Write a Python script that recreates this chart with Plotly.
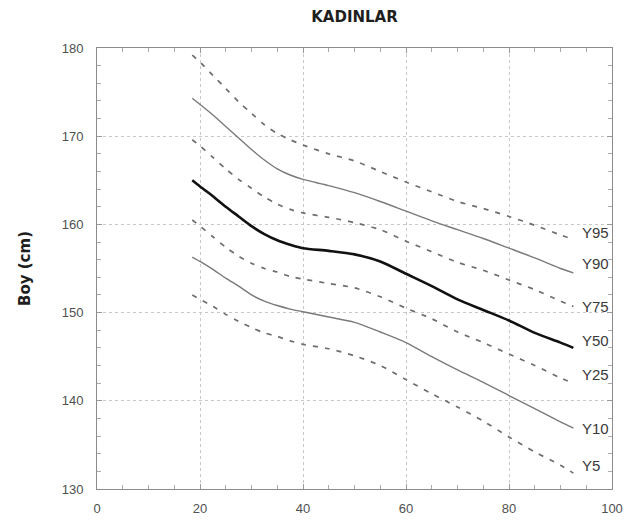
import plotly.graph_objects as go

ages = [18.5, 20, 22.5, 25, 27.5, 30, 32.5, 35, 37.5, 40, 45, 50, 55, 60, 65, 70, 75, 80, 85, 90, 92.5]

y95 = [179.2, 178.4, 176.9, 175.4, 173.9, 172.6, 171.3, 170.3, 169.6, 169.0, 168.0, 167.2, 166.0, 164.8, 163.7, 162.6, 161.8, 160.9, 159.9, 158.8, 158.3]
y90 = [174.3, 173.6, 172.4, 171.1, 169.8, 168.5, 167.3, 166.3, 165.6, 165.1, 164.4, 163.6, 162.6, 161.5, 160.4, 159.4, 158.4, 157.3, 156.2, 155.0, 154.5]
y75 = [169.6, 168.9, 167.6, 166.3, 165.1, 164.1, 163.1, 162.3, 161.7, 161.3, 160.8, 160.2, 159.4, 158.1, 156.9, 155.7, 154.8, 153.7, 152.6, 151.3, 150.7]
y50 = [165.0, 164.3, 163.2, 162.0, 160.9, 159.8, 158.9, 158.2, 157.7, 157.3, 157.0, 156.6, 155.8, 154.4, 153.0, 151.5, 150.3, 149.1, 147.7, 146.6, 146.0]
y25 = [160.5, 159.8, 158.6, 157.4, 156.4, 155.6, 155.0, 154.6, 154.1, 153.8, 153.3, 152.8, 151.8, 150.5, 149.3, 147.8, 146.6, 145.3, 144.0, 142.6, 142.0]
y10 = [156.3, 155.8, 154.9, 153.9, 153.0, 152.0, 151.3, 150.8, 150.4, 150.1, 149.5, 148.9, 147.8, 146.6, 145.0, 143.5, 142.1, 140.6, 139.1, 137.6, 136.9]
y5 = [152.0, 151.5, 150.7, 149.8, 149.0, 148.3, 147.7, 147.3, 146.8, 146.4, 145.9, 145.1, 144.0, 142.4, 140.8, 139.3, 137.7, 135.9, 134.2, 132.7, 131.8]

series_names = ["Y95", "Y90", "Y75", "Y50", "Y25", "Y10", "Y5"]
series_values = [y95, y90, y75, y50, y25, y10, y5]

x_ticks = [0, 20, 40, 60, 80, 100]
y_ticks = [130, 140, 150, 160, 170, 180]

styles = {
    "Y95": dict(color="#6e6e6e", width=1.7, dash="5px,7px"),
    "Y90": dict(color="#7a7a7a", width=1.4, dash="solid"),
    "Y75": dict(color="#6e6e6e", width=1.7, dash="5px,7px"),
    "Y50": dict(color="#111111", width=2.6, dash="solid"),
    "Y25": dict(color="#6e6e6e", width=1.7, dash="5px,7px"),
    "Y10": dict(color="#7a7a7a", width=1.4, dash="solid"),
    "Y5": dict(color="#6e6e6e", width=1.7, dash="5px,7px"),
}
label_shift = {"Y95": 7, "Y90": 9, "Y75": 0, "Y50": 7, "Y25": 9, "Y10": 0, "Y5": 8}

fig = go.Figure()
for name, vals in zip(series_names, series_values):
    fig.add_trace(go.Scatter(x=ages, y=vals, mode="lines", name=name,
                             line=dict(shape="spline", smoothing=0.8, **styles[name]),
                             showlegend=False, hoverinfo="skip"))
    fig.add_annotation(x=ages[-1], y=vals[-1], text=name, showarrow=False,
                       xanchor="left", yanchor="middle", xshift=7, yshift=label_shift[name],
                       font=dict(family="Liberation Sans, Arial", size=15, color="#3a3a3a"))

axis_common = dict(
    showline=True, linecolor="#8c8c8c", linewidth=1, mirror="ticks",
    ticks="inside", ticklen=5, tickcolor="#9a9a9a", tickwidth=1,
    showgrid=True, gridcolor="#c8c8c8", griddash="dot", gridwidth=1,
    zeroline=False,
    tickfont=dict(family="Liberation Sans, Arial", size=13, color="#505050"),
    automargin=False,
)

fig.update_xaxes(range=[0, 100], tickvals=x_ticks, ticklabelstandoff=7,
                 minor=dict(dtick=5, ticks="inside", ticklen=4, tickcolor="#aaaaaa", showgrid=False),
                 **axis_common)
fig.update_yaxes(range=[130, 180], tickvals=y_ticks, ticklabelstandoff=10,
                 minor=dict(dtick=2, ticks="inside", ticklen=4, tickcolor="#aaaaaa", showgrid=False),
                 title=dict(text="<b>Boy (cm)</b>", standoff=27,
                            font=dict(family="DejaVu Sans", size=15, color="#1e1e1e")),
                 **axis_common)

fig.update_layout(
    width=626, height=513,
    margin=dict(l=89, r=22, t=40, b=32),
    paper_bgcolor="white", plot_bgcolor="white",
    title=dict(text="<b>KADINLAR</b>", x=0.5, xanchor="center", xref="paper", y=0.982, yanchor="middle",
               font=dict(family="DejaVu Sans", size=15, color="#1e1e1e")),
)

fig.write_html("out.html")
